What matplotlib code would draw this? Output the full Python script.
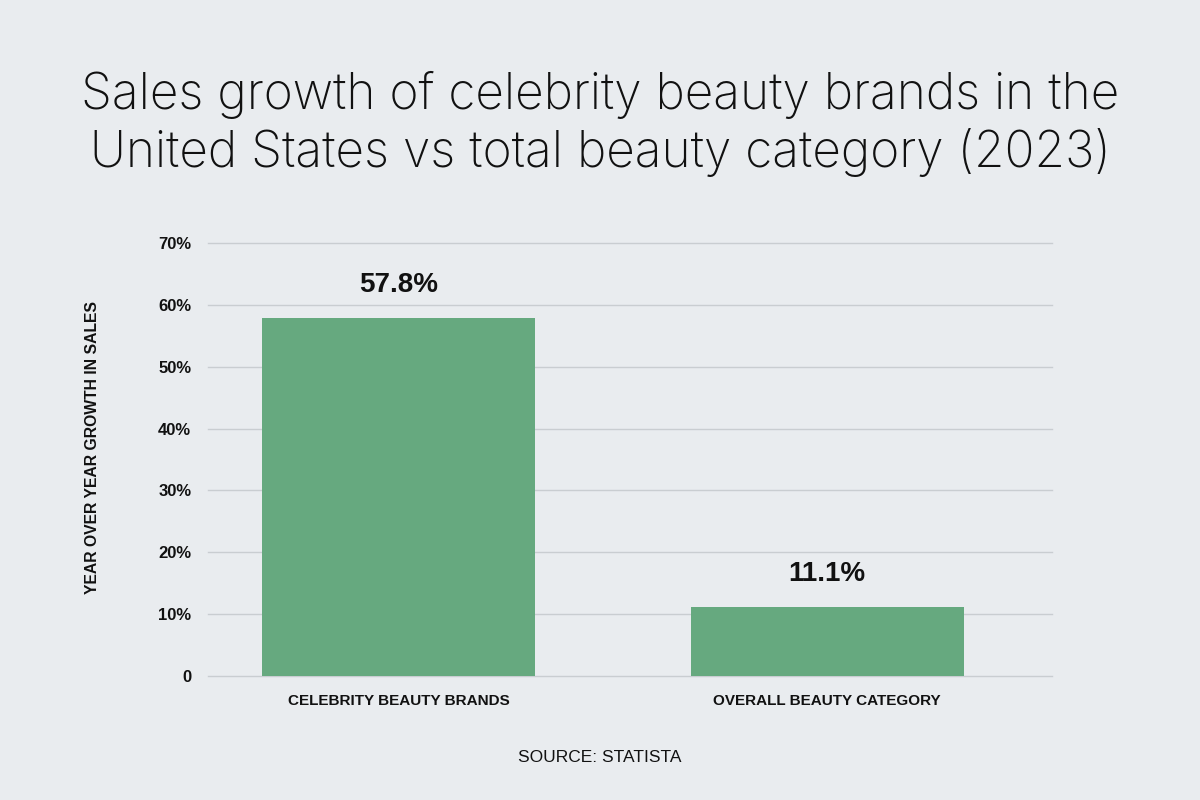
import matplotlib
matplotlib.use("Agg")
import matplotlib.pyplot as plt
from matplotlib.ticker import FixedLocator, FixedFormatter

categories = ["CELEBRITY BEAUTY BRANDS", "OVERALL BEAUTY CATEGORY"]
values = [57.8, 11.1]
value_labels = ["57.8%", "11.1%"]
yticks = [0, 10, 20, 30, 40, 50, 60, 70]
ytick_labels = ["0", "10%", "20%", "30%", "40%", "50%", "60%", "70%"]

BG = "#E9ECEF"
BAR = "#66A97F"
GRID = "#C9CDD1"

fig = plt.figure(figsize=(12, 8), dpi=100, facecolor=BG)
ax = fig.add_axes([0.1733, 0.155, 0.7034, 0.5412])
ax.set_facecolor(BG)

x = list(range(len(categories)))
ax.bar(x, values, width=0.637, color=BAR, zorder=3)
ax.set_xlim(-0.445, 1.525)
ax.set_ylim(0, 70)

ax.yaxis.set_major_locator(FixedLocator(yticks))
ax.yaxis.set_major_formatter(FixedFormatter(ytick_labels))
ax.grid(axis="y", color=GRID, linewidth=1.0, zorder=0, clip_on=False)
ax.set_axisbelow(True)
for s in ax.spines.values():
    s.set_visible(False)
ax.tick_params(axis="y", length=0, pad=12, labelsize=12, labelcolor="#111111")
for t in ax.get_yticklabels():
    t.set_fontfamily("Liberation Sans")
    t.set_fontweight("bold")

ax.set_xticks(x)
ax.set_xticklabels(categories, fontfamily="Liberation Sans", fontweight="bold",
                   fontsize=11, color="#111111")
ax.tick_params(axis="x", length=0, pad=13)

for xi, v, lab in zip(x, values, value_labels):
    ax.annotate(lab, (xi, v), xytext=(0, 15), textcoords="offset points",
                ha="center", va="bottom", fontsize=20, fontweight="bold",
                fontfamily="Liberation Sans", color="#111111")

fig.text(0.077, 0.44, "YEAR OVER YEAR GROWTH IN SALES", rotation=90, ha="center", va="center",
         fontsize=11.3, fontweight="bold", fontfamily="Liberation Sans", color="#111111")

fig.text(0.5, 0.845, "Sales growth of celebrity beauty brands in the\nUnited States vs total beauty category (2023)",
         ha="center", va="center", fontsize=35.7, fontweight="light", fontfamily="Inter",
         color="#111111", linespacing=1.25)

fig.text(0.5, 0.053, "SOURCE: STATISTA",
         ha="center", va="center", fontsize=12.5, fontfamily="Liberation Sans", color="#111111")

fig.savefig("out.png", dpi=100, facecolor=BG)
